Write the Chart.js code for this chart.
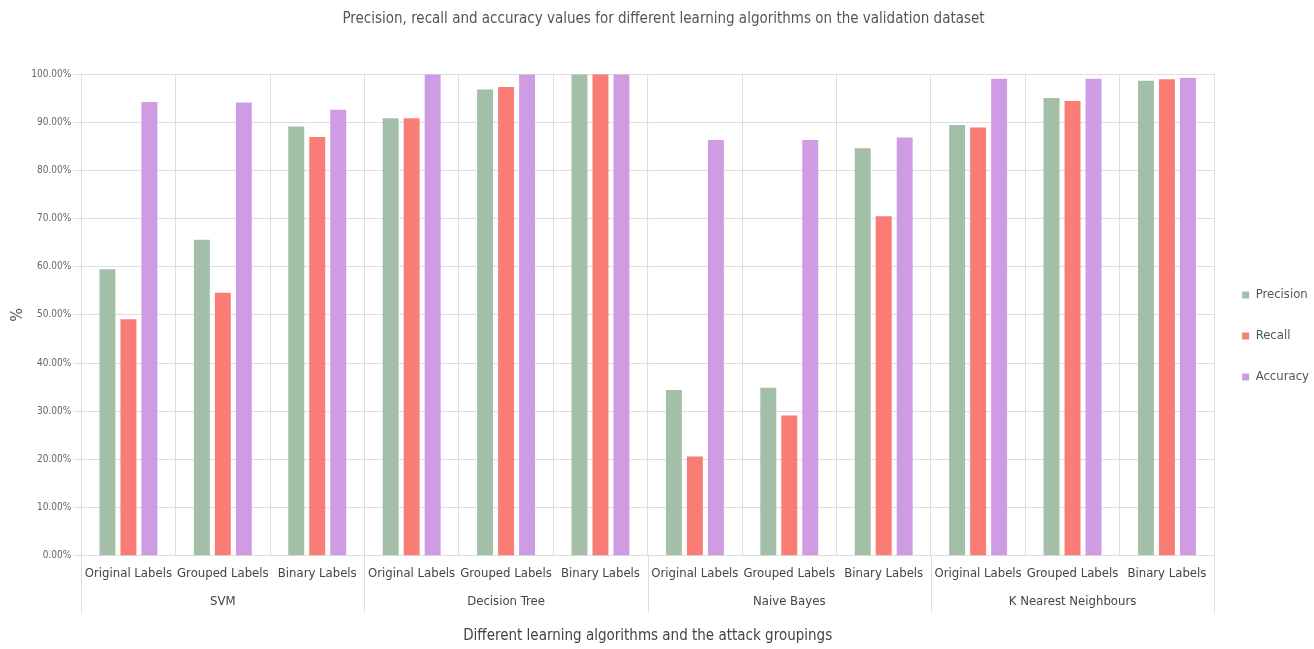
<!DOCTYPE html>
<html>
<head>
<meta charset="utf-8">
<style>
  html, body { margin: 0; padding: 0; background: #fff; }
  #wrap { width: 1314px; height: 649px; }
</style>
<script src="https://cdn.jsdelivr.net/npm/chart.js@4/dist/chart.umd.min.js"></script>
</head>
<body>
<div id="wrap"><canvas id="c" width="1314" height="649"></canvas></div>
<script>
// Category labels (label grouping) and the algorithm each group belongs to
const labelTypes = ['Original Labels', 'Grouped Labels', 'Binary Labels'];
const algorithms = ['SVM', 'Decision Tree', 'Naive Bayes', 'K Nearest Neighbours'];
const categories = algorithms.flatMap(() => labelTypes);

// Scores in percent, one value per (algorithm, label type)
const precision = [59.5, 65.6, 89.1, 90.8, 96.8, 99.9, 34.4, 34.9, 84.6, 89.4, 95.0, 98.6];
const recall    = [49.1, 54.6, 86.9, 90.8, 97.3, 99.9, 20.6, 29.1, 70.5, 88.9, 94.4, 98.9];
const accuracy  = [94.2, 94.1, 92.6, 99.9, 99.9, 99.9, 86.3, 86.3, 86.8, 99.0, 99.0, 99.2];

const yTicks = [0, 10, 20, 30, 40, 50, 60, 70, 80, 90, 100];

const FONT = "'DejaVu Sans Condensed', 'Liberation Sans', sans-serif";
const GRID = '#dedede';

// Vertical rules between algorithm groups, running from the plot floor
// down through both rows of category labels.
const groupRules = {
  id: 'groupRules',
  afterDraw(chart) {
    const x = chart.scales.x;
    const x2 = chart.scales.x2;
    const n = categories.length;
    const step = (x.right - x.left) / n;
    const ctx = chart.ctx;
    ctx.save();
    ctx.strokeStyle = GRID;
    ctx.lineWidth = 1;
    for (let k = 0; k <= n; k += labelTypes.length) {
      const px = Math.round(x.left + k * step) + 0.5;
      ctx.beginPath();
      ctx.moveTo(px, chart.chartArea.bottom);
      ctx.lineTo(px, x2.top + 21);
      ctx.stroke();
    }
    ctx.restore();
  }
};

new Chart(document.getElementById('c'), {
  type: 'bar',
  data: {
    labels: categories,
    datasets: [
      { label: 'Precision', data: precision, backgroundColor: '#a3bfa8' },
      { label: 'Recall',    data: recall,    backgroundColor: '#f97d74' },
      { label: 'Accuracy',  data: accuracy,  backgroundColor: '#cf9ce3' }
    ]
  },
  plugins: [groupRules],
  options: {
    responsive: false,
    animation: false,
    categoryPercentage: 0.667,
    barPercentage: 0.76,
    layout: { padding: { left: 8, right: -5, top: 4, bottom: 4 } },
    plugins: {
      title: {
        display: true,
        text: 'Precision, recall and accuracy values for different learning algorithms on the validation dataset',
        color: '#555',
        font: { family: FONT, size: 15, weight: 'normal' },
        padding: { top: 6, bottom: 46 }
      },
      legend: {
        position: 'right',
        title: { display: true, text: ' ', font: { size: 10 }, padding: { top: 11, bottom: 0 } },
        labels: {
          color: '#555',
          font: { family: FONT, size: 13 },
          boxWidth: 7,
          boxHeight: 7,
          padding: 28
        }
      },
      tooltip: { enabled: false }
    },
    scales: {
      x: {
        type: 'category',
        offset: true,
        grid: { offset: true, color: GRID, drawTicks: false },
        border: { color: GRID },
        ticks: {
          color: '#444',
          font: { family: FONT, size: 13 },
          padding: 10,
          maxRotation: 0,
          autoSkip: false
        }
      },
      x2: {
        type: 'category',
        labels: algorithms,
        position: 'bottom',
        offset: true,
        grid: { display: false, drawOnChartArea: false, drawTicks: false },
        border: { display: false },
        ticks: {
          color: '#444',
          font: { family: FONT, size: 13 },
          padding: 2,
          maxRotation: 0,
          autoSkip: false
        },
        title: {
          display: true,
          text: 'Different learning algorithms and the attack groupings',
          color: '#444',
          font: { family: FONT, size: 15 },
          padding: { top: 16, bottom: 0 }
        }
      },
      y: {
        min: 0,
        max: 100,
        afterBuildTicks: (scale) => { scale.ticks = yTicks.map(v => ({ value: v })); },
        grid: { color: GRID, tickLength: 8 },
        border: { color: GRID },
        ticks: {
          color: '#666',
          font: { family: FONT, size: 10 },
          padding: 2,
          callback: (v) => Number(v).toFixed(2) + '%'
        },
        title: {
          display: true,
          text: '%',
          color: '#555',
          font: { family: FONT, size: 16 },
          padding: { top: 0, bottom: 2 }
        }
      }
    }
  }
});
</script>
</body>
</html>
